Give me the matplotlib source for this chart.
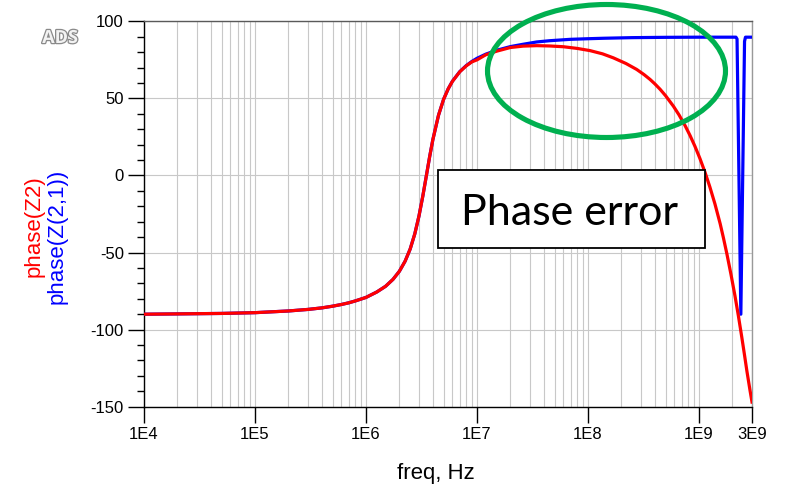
import numpy as np
import matplotlib.pyplot as plt
import matplotlib.patheffects as pe
from matplotlib.patches import Ellipse, Rectangle
from matplotlib.ticker import FixedLocator, MultipleLocator, NullFormatter

plt.rcParams.update({
    "font.family": ["Liberation Sans", "DejaVu Sans"],
    "font.size": 12,
    "axes.linewidth": 1.0,
    "axes.unicode_minus": False,
})

# phase(Z2) - red
red_freq = [1e4, 2e4, 5e4, 1e5, 2e5, 3e5, 4e5, 5e5, 6e5, 7e5, 8e5, 9e5,
            1e6, 1.25e6, 1.5e6, 1.75e6, 2e6, 2.25e6, 2.5e6, 2.75e6, 3e6, 3.25e6, 3.5e6,
            3.75e6, 4e6, 4.5e6, 5e6, 5.5e6, 6e6, 7e6, 8e6, 9e6,
            1e7, 1.2e7, 1.5e7, 2e7, 2.6e7, 3.45e7, 4.5e7, 6e7, 8e7,
            1.04e8, 1.35e8, 1.69e8, 2.2e8, 2.74e8, 3.2e8, 3.62e8, 4e8, 4.46e8, 5e8,
            5.88e8, 6.6e8, 7.49e8, 8.3e8, 9.2e8,
            1.02e9, 1.13e9, 1.25e9, 1.39e9, 1.55e9, 1.66e9, 1.78e9, 1.94e9, 2.11e9,
            2.26e9, 2.42e9, 2.56e9, 2.7e9, 2.88e9, 3e9]
red_phase = [-90.0, -89.8, -89.5, -89.0, -87.9, -86.9, -85.9, -84.8, -83.7, -82.6, -81.4, -80.2,
             -79.1, -75.6, -71.9, -67.4, -62.1, -55.6, -47.7, -37.9, -26.3, -13.3, 0.0,
             12.5, 23.2, 39.1, 49.4, 56.2, 61.0, 67.3, 71.1, 73.7,
             75.0, 78.3, 80.6, 83.0, 83.9, 84.2, 84.0, 83.5, 82.4,
             81.0, 78.9, 76.3, 72.6, 68.8, 65.4, 62.3, 59.4, 55.9, 51.7,
             44.9, 39.3, 32.3, 25.9, 18.8,
             10.9, 2.2, -7.3, -18.4, -31.3, -40.6, -50.7, -64.2, -78.3,
             -90.9, -104.3, -115.8, -127.0, -139.5, -147.0]

# phase(Z(2,1)) - blue
blue_freq = [1e4, 2e4, 5e4, 1e5, 2e5, 3e5, 4e5, 5e5, 6e5, 7e5, 8e5, 9e5,
             1e6, 1.25e6, 1.5e6, 1.75e6, 2e6, 2.25e6, 2.5e6, 2.75e6, 3e6, 3.25e6, 3.5e6,
             3.75e6, 4e6, 4.5e6, 5e6, 5.5e6, 6e6, 7e6, 8e6, 9e6,
             1e7, 1.2e7, 1.5e7, 2e7, 2.6e7, 3.45e7, 4.5e7, 6.9e7, 1e8, 1.38e8, 2.5e8,
             5e8, 1e9, 2.15e9, 2.2e9, 2.38e9, 2.57e9, 2.62e9, 3e9]
blue_phase = [-90.0, -89.8, -89.5, -89.0, -87.9, -86.9, -85.9, -84.8, -83.7, -82.6, -81.4, -80.2,
              -79.1, -75.6, -71.9, -67.4, -62.1, -55.6, -47.7, -37.9, -26.3, -13.3, 0.0,
              12.5, 23.2, 39.1, 49.4, 56.2, 61.1, 67.4, 71.3, 74.0,
              76.0, 78.7, 81.2, 83.6, 85.1, 86.6, 87.4, 88.3, 88.7, 89.0, 89.4,
              89.6, 89.7, 89.7, 88.5, -90.0, 87.0, 89.7, 89.7]

xticks = [1e4, 1e5, 1e6, 1e7, 1e8, 1e9, 3e9]
xticklabels = ["1E4", "1E5", "1E6", "1E7", "1E8", "1E9", "3E9"]
yticks = [-150, -100, -50, 0, 50, 100]

W, H = 791, 487
fig = plt.figure(figsize=(W / 100, H / 100), dpi=100)
ax = fig.add_axes([144 / W, 1 - 406.7 / H, 608 / W, 385.4 / H])

ax.plot(blue_freq, blue_phase, color="#0000ff", lw=2.3, zorder=3)
ax.plot(red_freq, red_phase, color="#ff0000", lw=2.3, zorder=4)

ax.set_xscale("log")
ax.set_xlim(1e4, 3e9)
ax.set_ylim(-150, 100)

# vertical grid on every 1..9 x decade, horizontal only on major y
grid_x = [m * 10.0 ** e for e in range(4, 10) for m in range(1, 10) if m * 10.0 ** e <= 3e9]
for gx in grid_x:
    ax.axvline(gx, color="#c8c8c8", lw=0.8, zorder=1)
for gy in yticks:
    ax.axhline(gy, color="#c8c8c8", lw=0.8, zorder=1)

ax.xaxis.set_major_locator(FixedLocator(xticks))
ax.set_xticklabels(xticklabels)
ax.xaxis.set_minor_formatter(NullFormatter())
ax.tick_params(axis="x", which="minor", length=0)
ax.yaxis.set_major_locator(FixedLocator(yticks))
ax.yaxis.set_minor_locator(MultipleLocator(10))
ax.tick_params(which="major", direction="out", length=11.5, width=1, labelsize=12, pad=3)
ax.tick_params(axis="y", which="minor", direction="out", length=5, width=1)

ax.spines["top"].set_color("#5a5a5a")
ax.spines["right"].set_color("#999999")

fig.text(436 / W, 1 - 474 / H, "freq, Hz", fontsize=16, ha="center", va="center")
fig.text(34 / W, 1 - 226 / H, "phase(Z2)", color="#ff0000", fontsize=16,
         rotation=90, ha="center", va="center")
fig.text(57 / W, 1 - 236.5 / H, "phase(Z(2,1))", color="#0000ff", fontsize=16,
         rotation=90, ha="center", va="center")

fig.text(60 / W, 1 - 38 / H, "ADS", fontsize=13, fontweight="bold", family="Open Sans",
         color="#f2f2f2", ha="center", va="center",
         path_effects=[pe.withStroke(linewidth=1.8, foreground="#8a8a8a")])

# annotation box + green ellipse
fig.add_artist(Rectangle((438 / W, 1 - 248 / H), 267 / W, 78 / H, transform=fig.transFigure,
                         facecolor="white", edgecolor="black", lw=1.3, zorder=5))
fig.text(569.5 / W, 1 - 225 / H, "Phase error", family="Lato", fontsize=31,
         ha="center", va="baseline", zorder=6)
fig.add_artist(Ellipse((606.5 / W, 1 - 71 / H), 238 / W, 133 / H, transform=fig.transFigure,
                       facecolor="none", edgecolor="#00b050", lw=3.7, zorder=7))

fig.savefig("out.png", dpi=100)
